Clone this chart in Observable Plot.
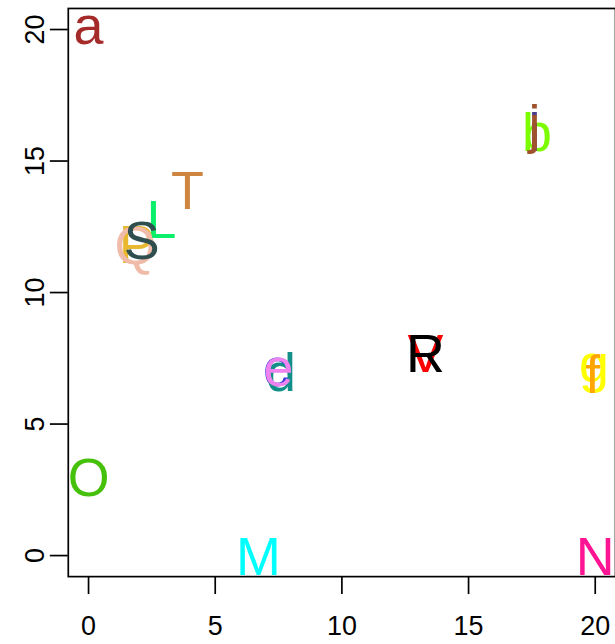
<!DOCTYPE html>
<html><head><meta charset="utf-8">
<script src="https://cdn.jsdelivr.net/npm/d3@7"></script>
<script src="https://cdn.jsdelivr.net/npm/@observablehq/plot@0.6"></script>
<style>
html,body{margin:0;padding:0;background:#fff;overflow:hidden}
#chart{width:615px;height:644px;overflow:hidden}
</style></head><body><div id="chart"></div>
<script>
const labels = ["a", "O", "T", "L", "P", "Q", "S", "b", "i", "j", "c", "d", "e", "V", "R", "g", "f", "M", "N"];
const xs = [0, 0, 3.9, 2.88, 1.9, 1.85, 2.1, 17.7, 17.6, 17.6, 7.42, 7.6, 7.5, 13.3, 13.3, 19.95, 19.9, 6.7, 20];
const ys = [20, 3, 13.9, 12.8, 11.85, 11.8, 12, 16.1, 16.1, 16.2, 6.97, 7, 7, 7.7, 7.7, 6.9, 6.9, 0, 0];
const colors = ["#A52A2A", "#45C10B", "#CD853F", "#0BF06A", "#E8B830", "#F0BBA8", "#2F4F4F", "#7CFC00", "#483D8B", "#A0522D", "#3535E0", "#138F8A", "#EE82EE", "#FF0000", "#000000", "#FFFF00", "#FFA500", "#00FFFF", "#FF1493"];
const xTicks = [0, 5, 10, 15, 20];
const yTicks = [0, 5, 10, 15, 20];

const data = labels.map((label, i) => ({label, x: xs[i], y: ys[i], color: colors[i]}));

// R centres each string on its ink extent; emulate with a baseline offset (em)
function baselineEm(ch) {
  if ("gpqy".includes(ch)) return 0.155;
  if (ch === "j") return 0.253;
  if ("acemnorsuvwxz".includes(ch)) return 0.262;
  return 0.358;
}
const FS = 54;
const letterMarks = data.map(d => Plot.text([d], {
  x: "x", y: "y", text: "label", fill: d.color, fontSize: FS,
  lineAnchor: "bottom", textAnchor: "middle", dy: baselineEm(d.label) * FS
}));

const chart = Plot.plot({
  width: 617, height: 644,
  marginLeft: 68, marginRight: 0, marginTop: 8, marginBottom: 66,
  x: {domain: [-0.8, 20.8]},
  y: {domain: [-0.8, 20.8]},
  style: {fontFamily: "'Liberation Sans', Arial, Helvetica, sans-serif", background: "white", color: "black"},
  marks: [
    Plot.axisX(xTicks, {tickSize: 18, tickPadding: 21, fontSize: 27, label: null, strokeWidth: 1.7}),
    Plot.axisY(yTicks, {tickSize: 18, tickFormat: () => "", label: null, strokeWidth: 1.7}),
    Plot.text(yTicks, {y: d => d, text: d => String(d), frameAnchor: "left", rotate: -90,
      lineAnchor: "bottom", textAnchor: "middle", dx: -24.5, fontSize: 27, fill: "black"}),
    ...letterMarks,
    Plot.frame({stroke: "black", strokeWidth: 1.7})
  ]
});
document.getElementById("chart").appendChild(chart);
</script></body></html>
